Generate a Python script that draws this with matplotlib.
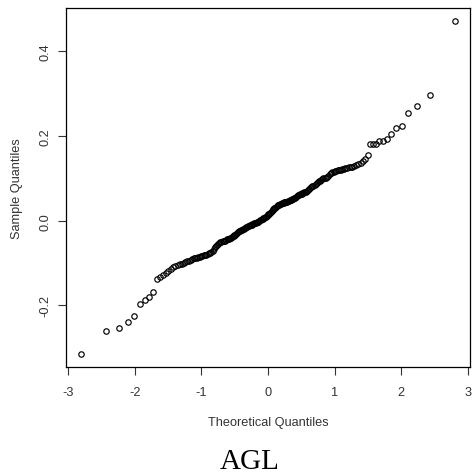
import matplotlib
matplotlib.use("Agg")
import matplotlib.pyplot as plt
from statistics import NormalDist

# Sorted sample values, n = 200
sample_sorted = [
    -0.314, -0.260, -0.2525, -0.238, -0.226, -0.196, -0.1875, -0.180, -0.169, -0.138,
    -0.133, -0.128, -0.124, -0.118, -0.113, -0.109, -0.107, -0.105, -0.103, -0.101,
    -0.099, -0.097, -0.095, -0.094, -0.092, -0.090, -0.089, -0.088, -0.087, -0.086,
    -0.085, -0.084, -0.083, -0.082, -0.081, -0.080, -0.078, -0.077, -0.076, -0.074,
    -0.071, -0.067, -0.063, -0.060, -0.057, -0.054, -0.053, -0.051, -0.050, -0.049,
    -0.048, -0.047, -0.046, -0.044, -0.043, -0.042, -0.041, -0.040, -0.038, -0.037,
    -0.036, -0.034, -0.033, -0.031, -0.029, -0.027, -0.025, -0.024, -0.022, -0.021,
    -0.020, -0.019, -0.017, -0.016, -0.015, -0.014, -0.013, -0.012, -0.011, -0.010,
    -0.009, -0.008, -0.007, -0.006, -0.006, -0.005, -0.004, -0.003, -0.002, 0.000,
    0.001, 0.002, 0.003, 0.004, 0.006, 0.007, 0.009, 0.010, 0.012, 0.013,
    0.015, 0.017, 0.019, 0.021, 0.023, 0.025, 0.027, 0.029, 0.031, 0.033,
    0.035, 0.036, 0.037, 0.038, 0.039, 0.040, 0.041, 0.042, 0.043, 0.044,
    0.044, 0.045, 0.045, 0.046, 0.047, 0.048, 0.049, 0.050, 0.051, 0.052,
    0.053, 0.054, 0.056, 0.058, 0.060, 0.061, 0.062, 0.063, 0.064, 0.065,
    0.066, 0.067, 0.068, 0.069, 0.071, 0.073, 0.075, 0.077, 0.079, 0.081,
    0.083, 0.085, 0.087, 0.089, 0.091, 0.093, 0.095, 0.097, 0.099, 0.100,
    0.101, 0.102, 0.103, 0.106, 0.110, 0.113, 0.115, 0.116, 0.117, 0.118,
    0.119, 0.120, 0.121, 0.122, 0.123, 0.124, 0.125, 0.126, 0.127, 0.128,
    0.130, 0.132, 0.134, 0.137, 0.142, 0.146, 0.155, 0.181, 0.181, 0.181,
    0.1875, 0.189, 0.193, 0.205, 0.218, 0.223, 0.254, 0.271, 0.298, 0.471,
]
x_ticks = [-3, -2, -1, 0, 1, 2, 3]
y_ticks = [-0.2, 0.0, 0.2, 0.4]
y_tick_labels = ["-0.2", "0.0", "0.2", "0.4"]
title = "AGL"
x_label = "Theoretical Quantiles"
y_label = "Sample Quantiles"

n = len(sample_sorted)
nd = NormalDist()
theoretical = [nd.inv_cdf((i + 0.5) / n) for i in range(n)]

plt.rcParams['font.family'] = ['Liberation Sans', 'DejaVu Sans']
fig = plt.figure(figsize=(4.73, 4.77), dpi=100)
W, H = 473, 477
left, right, top, bottom = 66, 470, 9, 368
ax = fig.add_axes([left / W, 1 - bottom / H, (right - left) / W, (bottom - top) / H])

ax.plot(theoretical, sample_sorted, linestyle='none', marker='o', markersize=3.9,
        markerfacecolor='none', markeredgecolor='black', markeredgewidth=0.85)

xr = max(theoretical) - min(theoretical)
ax.set_xlim(min(theoretical) - 0.04 * xr, max(theoretical) + 0.04 * xr)
yr = max(sample_sorted) - min(sample_sorted)
ax.set_ylim(min(sample_sorted) - 0.04 * yr, max(sample_sorted) + 0.04 * yr)

ax.set_xticks(x_ticks)
ax.set_xticklabels([str(t) for t in x_ticks])
ax.set_yticks(y_ticks)
ax.set_yticklabels(y_tick_labels, rotation=90, va='center')

for s in ax.spines.values():
    s.set_linewidth(0.9)
    s.set_color('black')
ax.tick_params(axis='both', length=5.5, width=0.8, color='#333333',
               labelsize=9.2, labelcolor='#333333')
ax.tick_params(axis='x', pad=8)
ax.tick_params(axis='y', pad=5)

ax.set_xlabel(x_label, fontsize=9.2, color='#333333', labelpad=13)
ax.set_ylabel(y_label, fontsize=9.2, color='#333333', labelpad=12)

fig.text(250 / W, 1 - 462 / H, title, ha='center', va='center',
         fontsize=21, family=['Liberation Serif', 'DejaVu Serif'], color='black')

fig.savefig("out.png", dpi=100)
